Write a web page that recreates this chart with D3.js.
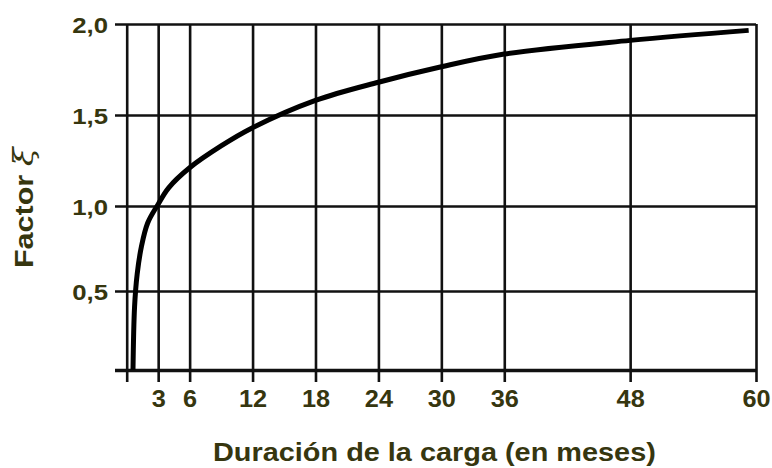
<!DOCTYPE html>
<html>
<head>
<meta charset="utf-8">
<script src="https://cdn.jsdelivr.net/npm/d3@7"></script>
<style>
  html, body { margin: 0; padding: 0; background: #fff; }
  svg { display: block; }
</style>
</head>
<body>
<svg id="chart" width="772" height="468"></svg>
<script>
// Duration of load (months) at which grid lines are drawn
const monthGrid = [0, 3, 6, 12, 18, 24, 30, 36, 48, 60];
// Labelled months
const monthLabels = [3, 6, 12, 18, 24, 30, 36, 48, 60];
// Factor levels for horizontal grid lines and labels
const factorGrid = [0, 0.5, 1.0, 1.5, 2.0];
const factorLabels = [0.5, 1.0, 1.5, 2.0];

// Time-dependent factor ξ versus load duration
const curveMonths = [0.6, 0.75, 1.0, 1.4, 2.0, 3.0, 4.0, 6, 9, 12, 18, 24, 30, 36, 48, 59.3];
const curveFactor = [0, 0.4, 0.6, 0.76, 0.9, 1.01, 1.1, 1.21, 1.33, 1.43, 1.58, 1.68, 1.765, 1.835, 1.91, 1.965];

const ink = "#111";
const labelColor = "#36360f";
const labelFont = "'Liberation Sans', Arial, sans-serif";

const svg = d3.select("#chart");

const x = d3.scaleLinear().domain([0, 60]).range([126.7, 756]);
const y = d3.scaleLinear().domain(factorGrid).range([370, 291, 206, 115, 24]);

const plotLeft = 115, plotRight = x(60), plotTop = y(2), tickEnd = 382;

const esLocale = d3.formatLocale({ decimal: ",", thousands: ".", grouping: [3], currency: ["", "€"] });
const fmt = esLocale.format(".1f");

// Horizontal grid lines (including the base line)
const hAxis = d3.axisLeft(y)
  .tickValues(factorGrid)
  .tickSizeInner(-(plotRight - plotLeft))
  .tickSizeOuter(0)
  .tickPadding(7)
  .tickFormat(d => factorLabels.includes(d) ? fmt(d) : "");

const gy = svg.append("g").attr("transform", `translate(${plotLeft},0)`).call(hAxis);
gy.select(".domain").remove();
gy.selectAll(".tick line")
  .attr("stroke", ink)
  .attr("stroke-width", d => d === 0 ? 3.4 : 2.6);
gy.selectAll(".tick text")
  .attr("x", null)
  .attr("dy", "0.36em")
  .attr("transform", "translate(-7,0) scale(1.12,1)")
  .attr("fill", labelColor)
  .attr("font-family", labelFont)
  .attr("font-weight", "bold")
  .attr("font-size", 23);

// Vertical grid lines with tick extensions below the base line
const vAxis = d3.axisBottom(x)
  .tickValues(monthGrid)
  .tickSizeInner(-(tickEnd - plotTop))
  .tickSizeOuter(0)
  .tickPadding(0)
  .tickFormat(d => monthLabels.includes(d) ? d : "");

const gx = svg.append("g").attr("transform", `translate(0,${tickEnd})`).call(vAxis);
gx.select(".domain").remove();
gx.selectAll(".tick line")
  .attr("stroke", ink)
  .attr("stroke-width", 2.6);
gx.selectAll(".tick text")
  .attr("y", null)
  .attr("dy", null)
  .attr("transform", "translate(0,25) scale(1.1,1)")
  .attr("fill", labelColor)
  .attr("font-family", labelFont)
  .attr("font-weight", "bold")
  .attr("font-size", 23);

// Factor curve
const line = d3.line()
  .x((d, i) => x(curveMonths[i]))
  .y(d => y(d))
  .curve(d3.curveCatmullRom.alpha(0.5));

svg.append("path")
  .datum(curveFactor)
  .attr("d", line)
  .attr("fill", "none")
  .attr("stroke", "#000")
  .attr("stroke-width", 5)
  .attr("stroke-linecap", "butt");

// Axis titles
svg.append("text")
  .attr("transform", "translate(213,461) scale(1.09,1)")
  .attr("fill", labelColor)
  .attr("font-family", labelFont)
  .attr("font-weight", "bold")
  .attr("font-size", 26.5)
  .text("Duración de la carga (en meses)");

const yTitle = svg.append("text")
  .attr("transform", "translate(33,268) rotate(-90) scale(1.22,1)")
  .attr("fill", labelColor)
  .attr("font-family", labelFont)
  .attr("font-weight", "bold")
  .attr("font-size", 25);
yTitle.append("tspan").text("Factor ");
yTitle.append("tspan")
  .attr("font-family", "'DejaVu Serif', serif")
  .attr("font-weight", "normal")
  .attr("font-style", "italic")
  .attr("font-size", 28)
  .text("ξ");
</script>
</body>
</html>
